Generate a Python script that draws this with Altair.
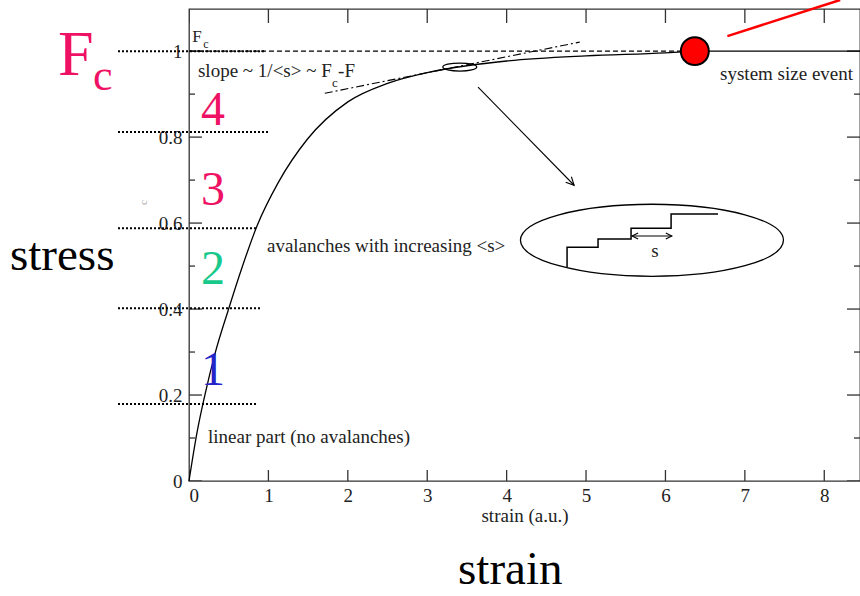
import altair as alt
import pandas as pd

SERIF = "Liberation Serif"
INK = "#222222"
PINK = "#ee1164"
GREEN = "#19c98c"
BLUE = "#2424c8"

X_MAX = 8.45
Y_MAX = 1.098

# ---- main stress/strain curve ----
curve_strain = [0.0, 0.10, 0.20, 0.33, 0.49, 0.67, 0.86, 1.12, 1.49, 2.0, 2.5, 3.0, 3.5, 4.0, 5.0, 6.0, 6.37]
curve_stress = [0.0, 0.112, 0.20, 0.298, 0.395, 0.498, 0.595, 0.693, 0.795, 0.882, 0.925, 0.950, 0.966, 0.977, 0.989, 0.996, 1.0]

# plateau after the system size event
plateau_strain = [6.37, X_MAX]
plateau_stress = [1.0, 1.0]

# F_c dashed level
fc_strain = [0.0, 6.37]
fc_stress = [1.0, 1.0]

# tangent (slope) dash-dot line
tangent_strain = [1.71, 4.92]
tangent_stress = [0.902, 1.021]

# dotted region separators
sep_level = [1.0, 0.812, 0.588, 0.402, 0.179]
sep_from = [-0.894, -0.894, -0.894, -0.894, -0.894]
sep_to = [0.957, 0.995, 0.856, 0.894, 0.869]

# region numbers
region_text = ["4", "3", "2", "1"]
region_y = [0.828, 0.642, 0.458, 0.223]
region_color = [PINK, PINK, GREEN, BLUE]

# staircase inside the zoom ellipse
stair_strain = [4.761, 4.761, 5.151, 5.151, 5.567, 5.567, 6.071, 6.071, 6.662]
stair_stress = [0.498, 0.544, 0.544, 0.563, 0.563, 0.588, 0.588, 0.621, 0.621]

# avalanche size double arrow
s_arrow_strain = [5.58, 6.08]
s_arrow_stress = [0.570, 0.570]

# pointer arrow from small ellipse to zoom ellipse
pointer_strain = [3.64, 4.85]
pointer_stress = [0.916, 0.688]

# ellipses (centres)
big_ell = (5.83, 0.560)
small_ell = (3.41, 0.963)

# system size event dot and red pointer
event = (6.37, 1.0)
red_strain = [6.78, 8.2]
red_stress = [1.035, 1.119]

# axis ticks
x_ticks = [0, 1, 2, 3, 4, 5, 6, 7, 8]
y_major = [0.0, 0.2, 0.4, 0.6, 0.8, 1.0]
y_minor = [0.1, 0.3, 0.5, 0.7, 0.9]

xs = alt.Scale(domain=[0, X_MAX], nice=False, zero=False)
ys = alt.Scale(domain=[0, Y_MAX], nice=False, zero=False)

xaxis = alt.Axis(values=x_ticks, format="d", ticks=False, tickSize=0, domain=False, grid=False,
                 labelFont=SERIF, labelFontSize=19, labelColor=INK, labelPadding=5,
                 title="strain (a.u.)", titleFont=SERIF, titleFontSize=19, titleFontWeight="normal",
                 titleColor=INK, titlePadding=1)
yaxis = alt.Axis(values=y_major, format=".1~f", ticks=False, tickSize=0, domain=False, grid=False,
                 labelFont=SERIF, labelFontSize=19, labelColor=INK, labelPadding=7, title=None)


def X(field="x"):
    return alt.X(field, type="quantitative", scale=xs, axis=xaxis)


def Y(field="y"):
    return alt.Y(field, type="quantitative", scale=ys, axis=yaxis)


def df(xv, yv):
    return pd.DataFrame({"x": xv, "y": yv, "i": list(range(len(xv)))})


def line(xv, yv, **kw):
    props = dict(color="black", strokeWidth=1.3, clip=False)
    props.update(kw)
    return alt.Chart(df(xv, yv)).mark_line(**props).encode(x=X(), y=Y(), order=alt.Order("i:Q"))


def text(x, y, s, size, color=INK, align="left", angle=0):
    d = pd.DataFrame({"x": [x], "y": [y], "t": [s]})
    return alt.Chart(d).mark_text(align=align, baseline="alphabetic", font=SERIF, fontSize=size,
                                  color=color, angle=angle, clip=False).encode(x=X(), y=Y(), text="t:N")


def symbol(x, y, shape, size, angle=0, width=1.2):
    d = pd.DataFrame({"x": [x], "y": [y]})
    return alt.Chart(d).mark_point(shape=shape, size=size, angle=angle, filled=False, stroke="black",
                                   strokeWidth=width, opacity=1, clip=False).encode(x=X(), y=Y())


def ellipse_path(b):
    k = 0.5523
    kb = round(k * b, 4)
    return (f"M -1 0 C -1 {-kb} {-k} {-b} 0 {-b} C {k} {-b} 1 {-kb} 1 0 "
            f"C 1 {kb} {k} {b} 0 {b} C {-k} {b} -1 {kb} -1 0 Z")


layers = []


# frame ticks (inward)
def ticks(xv, yv, orient, size):
    return alt.Chart(df(xv, yv)).mark_tick(orient=orient, size=size, thickness=1.3, color="#333",
                                           opacity=1, clip=True).encode(x=X(), y=Y())


layers.append(ticks([0] * len(y_major), y_major, "horizontal", 26))
layers.append(ticks([0] * len(y_minor), y_minor, "horizontal", 12))
layers.append(ticks([X_MAX] * len(y_major), y_major, "horizontal", 26))
layers.append(ticks([X_MAX] * len(y_minor), y_minor, "horizontal", 12))
layers.append(ticks(x_ticks, [0] * len(x_ticks), "vertical", 22))
layers.append(ticks(x_ticks, [Y_MAX] * len(x_ticks), "vertical", 28))

# dotted region separators
sep_df = pd.DataFrame({"x": sep_from, "x2": sep_to, "y": sep_level})
layers.append(alt.Chart(sep_df).mark_rule(color="black", strokeWidth=2, strokeDash=[2, 2], clip=False)
              .encode(x=X(), x2="x2:Q", y=Y()))

# F_c dashed level, tangent, curve, plateau
layers.append(line(fc_strain, fc_stress, strokeDash=[5, 3], strokeWidth=1.2))
layers.append(line(tangent_strain, tangent_stress, strokeDash=[8, 3, 2, 3], strokeWidth=1.1))
layers.append(line(curve_strain, curve_stress, interpolate="monotone"))
layers.append(line(plateau_strain, plateau_stress))

# small ellipse on curve and pointer arrow
layers.append(symbol(small_ell[0], small_ell[1], ellipse_path(0.235), 1156, width=1.2))
layers.append(line(pointer_strain, pointer_stress, strokeWidth=1.1))
layers.append(symbol(pointer_strain[1], pointer_stress[1], "M -2 -1 L 0 0 L -2 1", 64, angle=45.6, width=1.1))

# zoom ellipse with staircase and avalanche size arrow
layers.append(symbol(big_ell[0], big_ell[1], ellipse_path(0.274), 69169, width=1.3))
layers.append(line(stair_strain, stair_stress, strokeWidth=1.5))
layers.append(line(s_arrow_strain, s_arrow_stress, strokeWidth=1.1))
layers.append(symbol(s_arrow_strain[0], s_arrow_stress[0], "M 2 -1 L 0 0 L 2 1", 36, width=1.1))
layers.append(symbol(s_arrow_strain[1], s_arrow_stress[1], "M -2 -1 L 0 0 L -2 1", 36, width=1.1))

# red pointer and system size event dot
layers.append(line(red_strain, red_stress, color="#ff0000", strokeWidth=2.5))
ev = pd.DataFrame({"x": [event[0]], "y": [event[1]]})
layers.append(alt.Chart(ev).mark_circle(color="#ff0000", stroke="black", strokeWidth=2, size=780,
                                        opacity=1, clip=False).encode(x=X(), y=Y()))

# in-plot texts
layers.append(text(0.04, 1.021, "F", 17))
layers.append(text(0.18, 1.007, "c", 12))
layers.append(text(0.113, 0.940, "slope ~ 1/<s> ~ F", 19))
layers.append(text(1.80, 0.916, "c", 13))
layers.append(text(1.877, 0.940, "-F", 19))
layers.append(text(0.982, 0.533, "avalanches with increasing <s>", 19))
layers.append(text(0.239, 0.088, "linear part (no avalanches)", 19))
layers.append(text(6.688, 0.933, "system size event", 19))
layers.append(text(5.869, 0.521, "s", 19, align="center"))
layers.append(text(-0.529, 0.642, "c", 11, color="#aaaaaa", angle=270))

# big slide annotations
layers.append(text(-1.65, 0.944, "F", 64, color=PINK))
layers.append(text(-1.209, 0.909, "c", 44, color=PINK))
layers.append(text(-2.254, 0.490, "stress", 47, color="black"))
layers.append(text(3.388, -0.240, "strain", 47, color="black"))
for t, yv, c in zip(region_text, region_y, region_color):
    layers.append(text(0.302, yv, t, 48, color=c, align="center"))

chart = alt.layer(*layers).properties(
    width=671, height=472,
    padding={"left": 189, "top": 9, "right": 0, "bottom": 115},
    autosize=alt.AutoSizeParams(type="none"),
    background="white",
).configure_view(stroke="#333333", strokeWidth=1.3)

chart.save("out.html", embed_options={"renderer": "svg", "actions": False})
